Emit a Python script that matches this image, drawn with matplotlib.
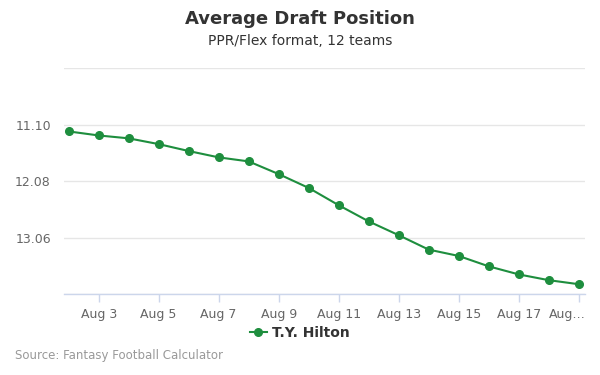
import matplotlib
matplotlib.use("Agg")
import matplotlib.pyplot as plt
import matplotlib.transforms as mtransforms
from matplotlib.lines import Line2D

plt.rcParams["font.family"] = ["DejaVu Sans"]

# data
days = [2, 3, 4, 5, 6, 7, 8, 9, 10, 11, 12, 13, 14, 15, 16, 17, 18, 19]
adp = [11.22, 11.29, 11.34, 11.44, 11.56, 11.67, 11.74, 11.96, 12.20,
       12.50, 12.78, 13.02, 13.27, 13.38, 13.56, 13.70, 13.80, 13.87]
tick_days = [3, 5, 7, 9, 11, 13, 15, 17, 19]
tick_labels = ["Aug 3", "Aug 5", "Aug 7", "Aug 9", "Aug 11", "Aug 13",
               "Aug 15", "Aug 17", "Aug\u2026"]
y_ticks = [10.12, 11.10, 12.08, 13.06, 14.04]
y_labels = ["", "11.10", "12.08", "13.06", ""]
player = "T.Y. Hilton"

GREEN = "#1e8e3e"

fig = plt.figure(figsize=(6, 3.75), dpi=100)
ax = fig.add_axes([64 / 600, 1 - 294 / 375, 521 / 600, 226 / 375])

ax.plot(days, adp, color=GREEN, lw=1.5, marker="o", ms=5.5, zorder=3)

ax.set_ylim(14.04, 10.12)
ax.set_xlim(1.845, 19.21)
ax.set_yticks(y_ticks)
ax.set_yticklabels(y_labels)
ax.set_xticks(tick_days)
ax.set_xticklabels(tick_labels)

ax.grid(axis="y", color="#e6e6e6", lw=1)
ax.set_axisbelow(True)
for side in ["top", "right", "left"]:
    ax.spines[side].set_visible(False)
ax.spines["bottom"].set_color("#ccd6eb")
ax.spines["bottom"].set_linewidth(1)

ax.tick_params(axis="y", length=0, pad=9.5, labelsize=9, labelcolor="#666666")
ax.tick_params(axis="x", length=6, width=1, color="#ccd6eb", pad=4,
               labelsize=9, labelcolor="#666666")

# last label is truncated and pushed left in the original
last = ax.get_xticklabels()[-1]
last.set_ha("right")
last.set_transform(last.get_transform() +
                   mtransforms.ScaledTranslation(0.07, 0, fig.dpi_scale_trans))

fig.text(0.5, 1 - 19 / 375, "Average Draft Position", ha="center", va="center",
         fontsize=13, fontweight="bold", color="#333333")
fig.text(0.5, 1 - 41 / 375, "PPR/Flex format, 12 teams", ha="center", va="center",
         fontsize=10, color="#333333")

handle = Line2D([], [], color=GREEN, lw=1.5, marker="o", ms=5.5)
fig.legend([handle], [player], loc="center", bbox_to_anchor=(0.5, 1 - 333 / 375),
           frameon=False, handlelength=1.2, handletextpad=0.4,
           prop={"weight": "bold", "size": 10}, labelcolor="#333333")

fig.text(15 / 600, 1 - 356 / 375, "Source: Fantasy Football Calculator",
         ha="left", va="center", fontsize=8.5, color="#999999")

fig.savefig("out.png", dpi=100)
